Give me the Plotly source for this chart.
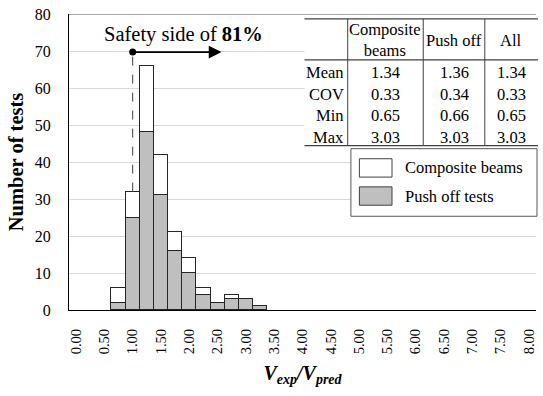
import plotly.graph_objects as go

# Histogram bins (bin centres, bin width 0.25)
bin_centres = [0.75, 1.00, 1.25, 1.50, 1.75, 2.00, 2.25, 2.50, 2.75, 3.00, 3.25]
push_off = [2, 25, 48, 31, 16, 10, 4, 2, 3, 3, 1]
composite = [4, 7, 18, 11, 5, 4, 2, 0, 1, 0, 0]
bin_width = 0.25

x_ticks = [i * 0.5 for i in range(17)]
x_tick_text = [f"{v:.2f}" for v in x_ticks]
y_ticks = list(range(0, 90, 10))

# Summary statistics table
stat_names = ["Mean", "COV", "Min", "Max"]
col_headers = ["Composite<br>beams", "Push off", "All"]
stats_composite = ["1.34", "0.33", "0.65", "3.03"]
stats_push = ["1.36", "0.34", "0.66", "3.03"]
stats_all = ["1.34", "0.33", "0.65", "3.03"]

safe_ratio = 1.0
safe_share = "81%"

FONT = "Liberation Serif"
W, H = 543, 396
ML, MR, MT, MB = 69, 6, 10, 86
PW, PH = W - ML - MR, H - MT - MB


def px(x):
    return (x - ML) / PW


def py(y):
    return (H - MB - y) / PH


fig = go.Figure()
fig.add_trace(go.Bar(
    x=bin_centres, y=push_off, width=bin_width, name="Push off tests",
    marker=dict(color="#bfbfbf", line=dict(color="#262626", width=1)),
))
fig.add_trace(go.Bar(
    x=bin_centres, y=[v if v > 0 else None for v in composite], width=bin_width,
    name="Composite beams",
    marker=dict(color="#ffffff", line=dict(color="#262626", width=1)),
))

# Dot marking the safety threshold
dot_y = 69.7
fig.add_trace(go.Scatter(
    x=[safe_ratio], y=[dot_y], mode="markers",
    marker=dict(color="black", size=7), showlegend=False, hoverinfo="skip",
))

shapes = []
annotations = []

# top frame line
shapes.append(dict(type="line", xref="paper", yref="y", x0=0, x1=1, y0=80, y1=80,
                   line=dict(color="#595959", width=1.2)))
# dashed guide from the bar up to the dot
total_at_safe = push_off[1] + composite[1]
shapes.append(dict(type="line", xref="x", yref="y", x0=safe_ratio, x1=safe_ratio,
                   y0=total_at_safe, y1=dot_y, line=dict(color="#404040", width=1, dash="dash")))

annotations.append(dict(
    x=2.57, y=dot_y, ax=safe_ratio, ay=dot_y, xref="x", yref="y", axref="x", ayref="y",
    text="", showarrow=True, arrowhead=2, arrowsize=1.6, arrowwidth=1.6, arrowcolor="black",
))
annotations.append(dict(
    x=px(184), y=py(31), xref="paper", yref="paper", showarrow=False,
    text=f"Safety side of <b>{safe_share}</b>", font=dict(family=FONT, size=20.5, color="black"),
    xanchor="center", yanchor="middle",
))

# ---- statistics table ----
t_left, t_right = 305, 539
t_top, t_head, t_bot = 15, 56.5, 143.5
col_x = [348.3, 424, 485.7]
shapes.append(dict(type="rect", xref="paper", yref="paper", x0=px(t_left), x1=px(t_right),
                   y0=py(t_bot), y1=py(t_top), fillcolor="white", line=dict(width=0)))
for yy in (t_top, t_head, t_bot):
    shapes.append(dict(type="line", xref="paper", yref="paper", x0=px(t_left), x1=px(t_right),
                       y0=py(yy), y1=py(yy), line=dict(color="#404040", width=1.3)))
for xx in col_x:
    shapes.append(dict(type="line", xref="paper", yref="paper", x0=px(xx), x1=px(xx),
                       y0=py(t_top), y1=py(t_bot), line=dict(color="#404040", width=1)))

col_centres = [(col_x[0] + col_x[1]) / 2, (col_x[1] + col_x[2]) / 2, (col_x[2] + t_right) / 2]
for cx, head in zip(col_centres, col_headers):
    annotations.append(dict(x=px(cx), y=py(36.5), xref="paper", yref="paper", showarrow=False,
                            text=head, font=dict(family=FONT, size=16.5, color="black"),
                            xanchor="center", yanchor="middle"))
row_y = [69.5, 91.3, 113, 134.8]
for ry, name, a, b, c in zip(row_y, stat_names, stats_composite, stats_push, stats_all):
    annotations.append(dict(x=px(347), y=py(ry), xref="paper", yref="paper", showarrow=False,
                            text=name, font=dict(family=FONT, size=16.5, color="black"),
                            xanchor="right", yanchor="middle"))
    for cx, val in zip(col_centres, (a, b, c)):
        annotations.append(dict(x=px(cx), y=py(ry), xref="paper", yref="paper", showarrow=False,
                                text=val, font=dict(family=FONT, size=16.5, color="black"),
                                xanchor="center", yanchor="middle"))

# ---- legend box ----
shapes.append(dict(type="rect", xref="paper", yref="paper", x0=px(351.5), x1=px(538),
                   y0=py(215), y1=py(146.5), fillcolor="white", line=dict(color="#595959", width=1)))
legend_items = [("Composite beams", "#ffffff", 166), ("Push off tests", "#bfbfbf", 194.5)]
for label, colour, ly in legend_items:
    shapes.append(dict(type="rect", xref="paper", yref="paper", x0=px(360), x1=px(392.7),
                       y0=py(ly + 9.3), y1=py(ly - 9.3), fillcolor=colour,
                       line=dict(color="#404040", width=1)))
    annotations.append(dict(x=px(404), y=py(ly), xref="paper", yref="paper", showarrow=False,
                            text=label, font=dict(family=FONT, size=16.5, color="black"),
                            xanchor="left", yanchor="middle"))

fig.update_layout(
    width=W, height=H, margin=dict(l=ML, r=MR, t=MT, b=MB),
    barmode="stack", bargap=0, showlegend=False,
    plot_bgcolor="white", paper_bgcolor="white",
    font=dict(family=FONT, color="black"),
    shapes=shapes, annotations=annotations,
    xaxis=dict(
        range=[-0.125, 8.125], tickmode="array", tickvals=x_ticks, ticktext=x_tick_text,
        tickangle=-90, tickfont=dict(size=14.5, family=FONT), showgrid=False, zeroline=False,
        showline=True, linecolor="black", linewidth=1.2, ticks="", ticklabelstandoff=12,
        title=dict(text="<b><i>V<sub>exp</sub>/V<sub>pred</sub></i></b>",
                   font=dict(size=20, family=FONT), standoff=12),
    ),
    yaxis=dict(
        range=[0, 80], tickmode="array", tickvals=y_ticks, tickfont=dict(size=16, family=FONT),
        showgrid=True, gridcolor="#d9d9d9", gridwidth=1, zeroline=False,
        showline=True, linecolor="black", linewidth=1.2, ticks="", ticklabelstandoff=14,
        title=dict(text="<b>Number of tests</b>", font=dict(size=20.5, family=FONT), standoff=5),
    ),
)

fig.write_html("out.html")
